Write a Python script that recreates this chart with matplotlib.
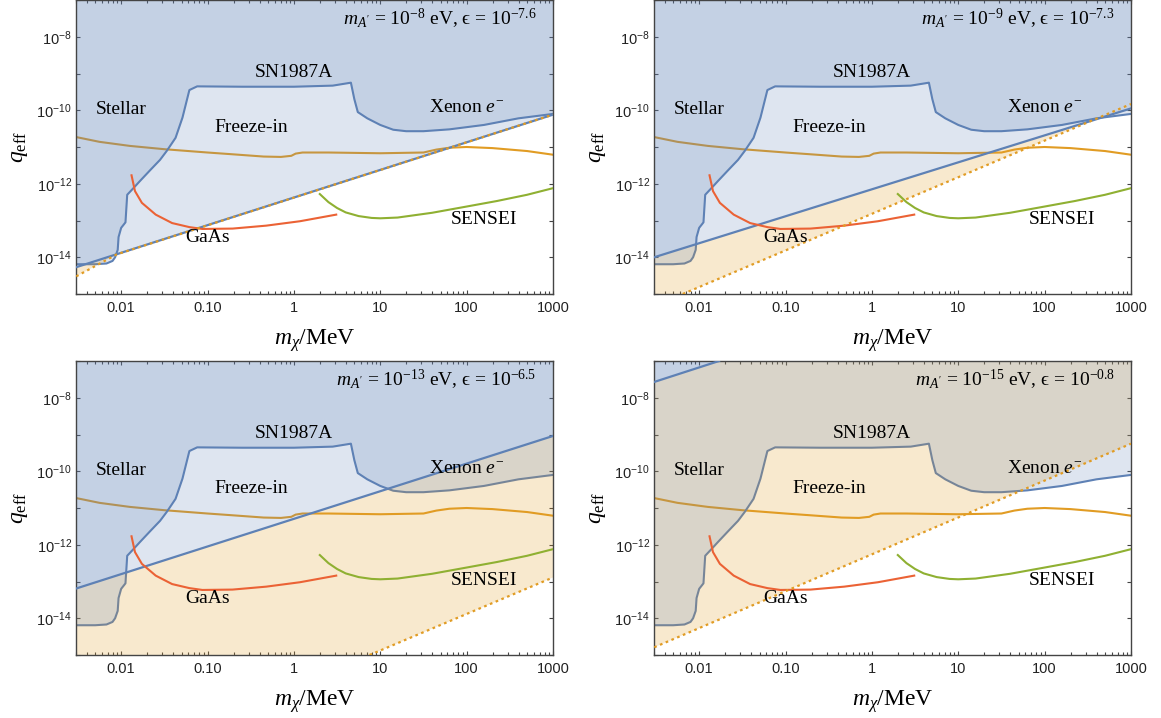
import numpy as np
import matplotlib
matplotlib.use('Agg')
import matplotlib.pyplot as plt
from matplotlib.patches import Polygon
from matplotlib.ticker import FixedLocator, FixedFormatter, LogLocator, NullFormatter

plt.rcParams['font.family'] = ['Liberation Serif', 'DejaVu Serif']
plt.rcParams['mathtext.fontset'] = 'custom'
plt.rcParams['mathtext.rm'] = 'Liberation Serif'
plt.rcParams['mathtext.it'] = 'Liberation Serif:italic'
plt.rcParams['mathtext.sf'] = 'Liberation Sans'

BLUE = '#5e81b5'
ORANGE = '#e19c24'
GREEN = '#8fb032'
RED = '#eb6235'

XMIN, XMAX = 0.003, 1000
YMIN, YMAX = 1e-15, 1e-7

# exclusion boundary (Stellar / SN1987A / Xenon), log10 values
bound_logm = [-2.52, -2.3, -2.17, -2.1, -2.07, -2.04, -2.03, -2.0, -1.95, -1.93, -1.87, -1.78,
              -1.66, -1.55, -1.47, -1.37, -1.29, -1.21, -1.12, -0.6, 0.0, 0.45, 0.66, 0.70,
              0.74, 0.85, 1.0, 1.15, 1.3, 1.5, 1.8, 2.2, 2.6, 3.0]
bound_logq = [-14.19, -14.19, -14.17, -14.1, -14.0, -13.8, -13.45, -13.2, -13.05, -12.3, -12.15, -11.92,
              -11.62, -11.35, -11.1, -10.75, -10.2, -9.45, -9.35, -9.36, -9.36, -9.33, -9.25, -9.7,
              -10.05, -10.22, -10.4, -10.53, -10.57, -10.57, -10.52, -10.4, -10.22, -10.1]

# freeze-in curve
fz_logm = [-2.52, -2.25, -1.9, -1.5, -1.0, -0.7, -0.35, -0.15, -0.03, 0.02, 0.1, 0.4,
           1.0, 1.5, 1.65, 1.8, 2.0, 2.3, 2.7, 3.0]
fz_logq = [-10.73, -10.86, -10.97, -11.06, -11.15, -11.2, -11.26, -11.27, -11.24, -11.18, -11.15, -11.15,
           -11.17, -11.15, -11.07, -11.02, -11.0, -11.03, -11.11, -11.21]

# GaAs projection
gaas_logm = [-1.88, -1.84, -1.76, -1.6, -1.41, -1.21, -1.06, -0.71, -0.32, 0.07, 0.49]
gaas_logq = [-11.77, -12.2, -12.52, -12.84, -13.07, -13.18, -13.23, -13.22, -13.14, -13.02, -12.84]

# SENSEI projection
sensei_logm = [0.3, 0.4, 0.5, 0.6, 0.75, 0.9, 1.0, 1.2, 1.6, 2.0, 2.35, 2.7, 3.0]
sensei_logq = [-12.28, -12.5, -12.66, -12.78, -12.88, -12.93, -12.94, -12.92, -12.79, -12.62, -12.47, -12.3, -12.12]

# per panel: dark photon mass, kinetic mixing, and the two lines
panel_mass = ['-8', '-9', '-13', '-15']
panel_eps = ['-7.6', '-7.3', '-6.5', '-0.8']
line_logm = [[-2.52, 3.0], [-2.52, 3.0], [-2.52, 3.0], [-2.52, -1.77]]
line_logq = [[-14.27, -10.12], [-14.0, -9.95], [-13.19, -9.04], [-7.57, -7.0]]
dot_logm = [[-2.52, -2.05, 3.0], [-2.19, 3.0], [0.876, 3.0], [-2.52, 3.0]]
dot_logq = [[-14.52, -13.92, -10.12], [-15.0, -9.83], [-15.0, -12.89], [-14.79, -9.25]]

labels = ['Stellar', 'SN1987A', 'Freeze-in', 'GaAs', r'Xenon $e^{-}$', 'SENSEI']
label_logm = [-2.0, 0.0, -0.5, -1.0, 2.0, 2.2]
label_logq = [-9.97, -8.98, -10.47, -13.47, -9.93, -12.97]

xtick_vals = [0.01, 0.1, 1, 10, 100, 1000]
xtick_labels = ['0.01', '0.10', '1', '10', '100', '1000']
ytick_vals = [1e-8, 1e-10, 1e-12, 1e-14]
ytick_labels = [r'$\mathsf{10^{-8}}$', r'$\mathsf{10^{-10}}$', r'$\mathsf{10^{-12}}$', r'$\mathsf{10^{-14}}$']


def pts(lm, lq):
    return list(zip(10.0 ** np.array(lm), 10.0 ** np.array(lq)))


def above(p):
    return [(XMIN, YMIN)] + p + [(XMAX, YMAX), (XMIN, YMAX)]


def below(p):
    return p + [(XMAX, YMAX), (XMAX, YMIN), (XMIN, YMIN)]


fig = plt.figure(figsize=(11.61, 7.18), dpi=100)
W, H = 1161, 718
boxes = [(76, 0, 477, 294), (654, 0, 477, 294), (76, 361, 477, 294), (654, 361, 477, 294)]

for i, (bx, by, bw, bh) in enumerate(boxes):
    ax = fig.add_axes([bx / W, 1 - (by + bh) / H, bw / W, bh / H])
    ax.set_xscale('log')
    ax.set_yscale('log')
    ax.set_xlim(XMIN, XMAX)
    ax.set_ylim(YMIN, YMAX)

    bm = 10.0 ** np.array(bound_logm)
    bq = 10.0 ** np.array(bound_logq)

    # curves under the shaded regions
    ax.plot(10.0 ** np.array(fz_logm), 10.0 ** np.array(fz_logq), color=ORANGE, lw=1.5, zorder=1)
    ax.plot(bm, bq, color=BLUE, lw=1.5, zorder=1)

    line = pts(line_logm[i], line_logq[i])
    dots = pts(dot_logm[i], dot_logq[i])

    # orange band: above dotted line, below the blue line
    clip = Polygon(below(line), closed=True, transform=ax.transData, facecolor='none', edgecolor='none')
    orange_fill = Polygon(above(dots), closed=True, facecolor=ORANGE, alpha=0.22, lw=0, zorder=2)
    ax.add_patch(orange_fill)
    orange_fill.set_clip_path(clip)

    ax.add_patch(Polygon(above(line), closed=True, facecolor=BLUE, alpha=0.2, lw=0, zorder=2))
    ax.add_patch(Polygon(above(list(zip(bm, bq))), closed=True, facecolor=BLUE, alpha=0.2, lw=0, zorder=2))

    ax.plot(*zip(*line), color=BLUE, lw=1.6, zorder=3)
    ax.plot(*zip(*dots), color=ORANGE, lw=1.6, ls=(0, (1.2, 1.6)), zorder=4)

    ax.plot(10.0 ** np.array(gaas_logm), 10.0 ** np.array(gaas_logq), color=RED, lw=1.5, zorder=3)
    ax.plot(10.0 ** np.array(sensei_logm), 10.0 ** np.array(sensei_logq), color=GREEN, lw=1.5, zorder=3)

    for s, lm, lq in zip(labels, label_logm, label_logq):
        ax.text(10 ** lm, 10 ** lq, s, ha='center', va='center', fontsize=14, zorder=5)

    ax.text(0.966, 0.915,
            r"$m_{A'}$ = $10^{%s}$ eV, " % panel_mass[i] + '\u03f5' + r" = $10^{%s}$" % panel_eps[i],
            transform=ax.transAxes, ha='right', va='baseline', fontsize=14, zorder=5)

    # frame and ticks
    ax.xaxis.set_major_locator(FixedLocator(xtick_vals))
    ax.xaxis.set_major_formatter(FixedFormatter(xtick_labels))
    ax.xaxis.set_minor_locator(LogLocator(base=10, subs=np.arange(2, 10), numticks=20))
    ax.xaxis.set_minor_formatter(NullFormatter())
    ax.yaxis.set_major_locator(FixedLocator(ytick_vals))
    ax.yaxis.set_major_formatter(FixedFormatter(ytick_labels))
    ax.yaxis.set_minor_locator(FixedLocator([1e-15, 1e-13, 1e-11, 1e-9, 1e-7]))
    ax.yaxis.set_minor_formatter(NullFormatter())
    ax.tick_params(which='both', direction='in', top=True, right=True, color='#444444', width=0.8)
    ax.tick_params(which='major', length=3.2)
    ax.tick_params(which='minor', length=2.0)
    ax.tick_params(axis='y', which='minor', length=3.2)
    ax.tick_params(axis='x', labelsize=10.5, pad=5, labelcolor='#222222', labelfontfamily='Liberation Sans')
    ax.tick_params(axis='y', labelsize=10.5, pad=3, labelcolor='#222222')
    for sp in ax.spines.values():
        sp.set_color('#444444')
        sp.set_linewidth(1.0)

    ax.set_xlabel(r'$m_{\chi}/\mathrm{MeV}$', fontsize=17)
    ax.xaxis.set_label_coords(0.5, -0.112)
    ax.set_ylabel(r'$q_{\mathrm{eff}}$', fontsize=17)
    ax.yaxis.set_label_coords(-0.097, 0.5)

fig.savefig('out.png', dpi=100)
